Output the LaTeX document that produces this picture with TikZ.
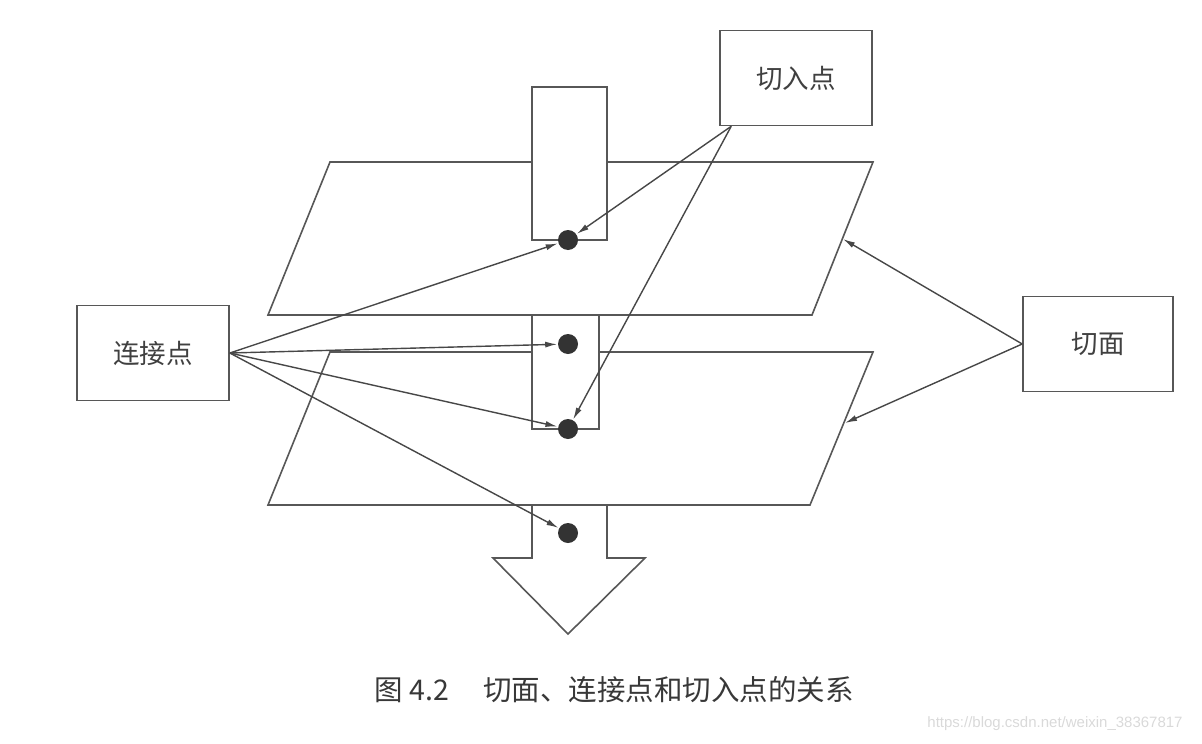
\documentclass[tikz,border=0pt]{standalone}
\usepackage{fontspec}
\setmainfont{Noto Sans CJK SC}
\newfontfamily\urlfont{Liberation Sans}
\usetikzlibrary{positioning, calc, arrows.meta}

\tikzset{
  box/.style={draw, fill=white, inner sep=0pt, minimum width=152pt, minimum height=95pt,
    text=black!75, font=\fontsize{26.5}{30}\selectfont},
  joinpt/.style={circle, fill=black!80, minimum size=20pt, inner sep=0pt},
  arr/.style={draw=black!72, line width=1.4pt, -{Latex[length=12pt,width=6pt]}}
}

\begin{document}
\begin{tikzpicture}[x=1pt,y=-1pt,line width=1.6pt,color=black!66]
      \useasboundingbox (0,0) rectangle (1202,744);
      \filldraw[fill=white] (532,505)--(532,558)--(493,558)--(568,634)--(645,558)--(607,558)--(607,505);
      \filldraw[fill=white] (330,162)--(873,162)--(812,315)--(268,315)--cycle;
      \filldraw[fill=white] (330,352)--(873,352)--(810,505)--(268,505)--cycle;
      \filldraw[fill=white] (532,87) rectangle (607,240);
      \filldraw[fill=white] (532,315) rectangle (599,429);
      \coordinate (upedge) at (843,239);
      \coordinate (loedge) at (845,423);
      \node[joinpt] (jp1) at (568,240) {};
      \node[joinpt] (jp2) at (568,344) {};
      \node[joinpt] (jp3) at (568,429) {};
      \node[joinpt] (jp4) at (568,533) {};
      \node[box] (pointcut) at (796,78) {切入点};
      \node[box] (joinpoint) at (153,353) {连接点};
      \node[box, minimum width=150pt] (aspect) at (1098,344) {切面};
      \draw[arr] (joinpoint.east) -- (jp1);
      \draw[arr] (joinpoint.east) -- (jp2);
      \draw[arr] (joinpoint.east) -- (jp3);
      \draw[arr] (joinpoint.east) -- (jp4);
      \draw[arr] (pointcut.south west) ++(12,0) coordinate (pcfoot) -- (jp1);
      \draw[arr] (pcfoot) -- (jp3);
      \draw[arr] (aspect.west) -- (upedge);
      \draw[arr] (aspect.west) -- (loedge);
      \node[text=black!78, font=\fontsize{28.5}{32}\selectfont] (caption) at (614,690) {图 4.2\hspace{1.2em}切面、连接点和切入点的关系};
      \node[text=black!15, font=\urlfont\fontsize{15}{18}\selectfont] (mark) at (1055,724) {https://blog.csdn.net/weixin\_38367817};
    \end{tikzpicture}
\end{document}
